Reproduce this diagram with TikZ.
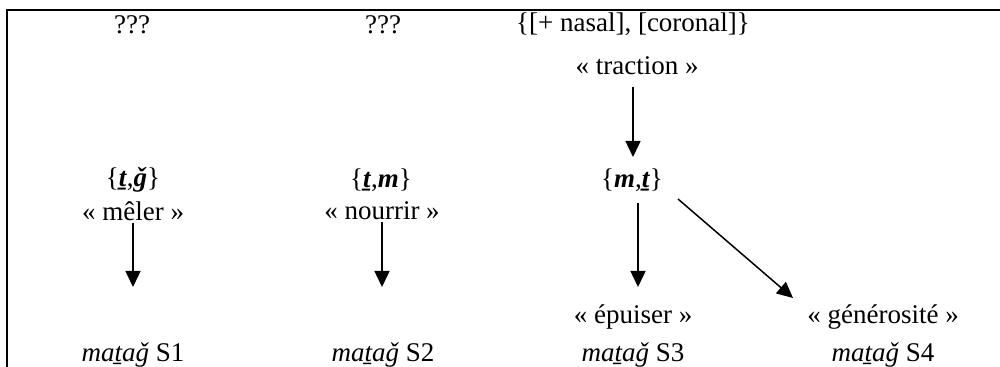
\documentclass[tikz,border=0pt]{standalone}
\usepackage{fontspec}
\setmainfont{Liberation Serif}
\usetikzlibrary{arrows.meta,positioning}

\newcommand{\rt}[1]{\textbf{\textit{#1}}}

\begin{document}
\begin{tikzpicture}[
  x=0.5pt, y=-0.5pt,
  >={Triangle[length=8pt, width=7.5pt]},
  lbl/.style={font=\fontsize{13.5}{15}\selectfont, inner sep=1pt},
  ar/.style={line width=0.75pt, ->},
]
\useasboundingbox (0,0) rectangle (1000,367);
\draw[line width=1.1pt] (1000,10) -- (7,10) -- (7,367);

% top row
\node[lbl] (q1)   at (132,25)  {???};
\node[lbl] (q2)   at (383,25)  {???};
\node[lbl] (feat) at (633,24)  {\{[+ nasal], [coronal]\}};
\node[lbl] (trac) at (637,66)  {« traction »};

% roots
\node[lbl] (r1) at (133,180) {\{\rt{ṯ},\rt{ǧ}\}};
\node[lbl] (g1) at (133,211) {« mêler »};
\node[lbl] (r2) at (381,180) {\{\rt{ṯ},\rt{m}\}};
\node[lbl] (g2) at (382,211) {« nourrir »};
\node[lbl] (r3) at (632,180) {\{\rt{m},\rt{ṯ}\}};

% senses
\node[lbl] (g3) at (633,317) {« épuiser »};
\node[lbl] (g4) at (883,317) {« générosité »};
\node[lbl] (m1) at (133,355) {\textit{maṯaǧ} S1};
\node[lbl] (m2) at (383,355) {\textit{maṯaǧ} S2};
\node[lbl] (m3) at (633,355) {\textit{maṯaǧ} S3};
\node[lbl] (m4) at (883,355) {\textit{maṯaǧ} S4};

\coordinate (e1) at (133,287);
\coordinate (e2) at (382,287);
\coordinate (e3) at (638,287);
\coordinate (e4) at (793,298);

\draw[ar] (trac.south) ++(-4,10) -- (633,157);
\draw[ar] (g1.south) -- (e1);
\draw[ar] (g2.south) -- (e2);
\draw[ar] (638,203) -- (e3);
\draw[ar] (678,199) -- (e4);
\end{tikzpicture}
\end{document}
